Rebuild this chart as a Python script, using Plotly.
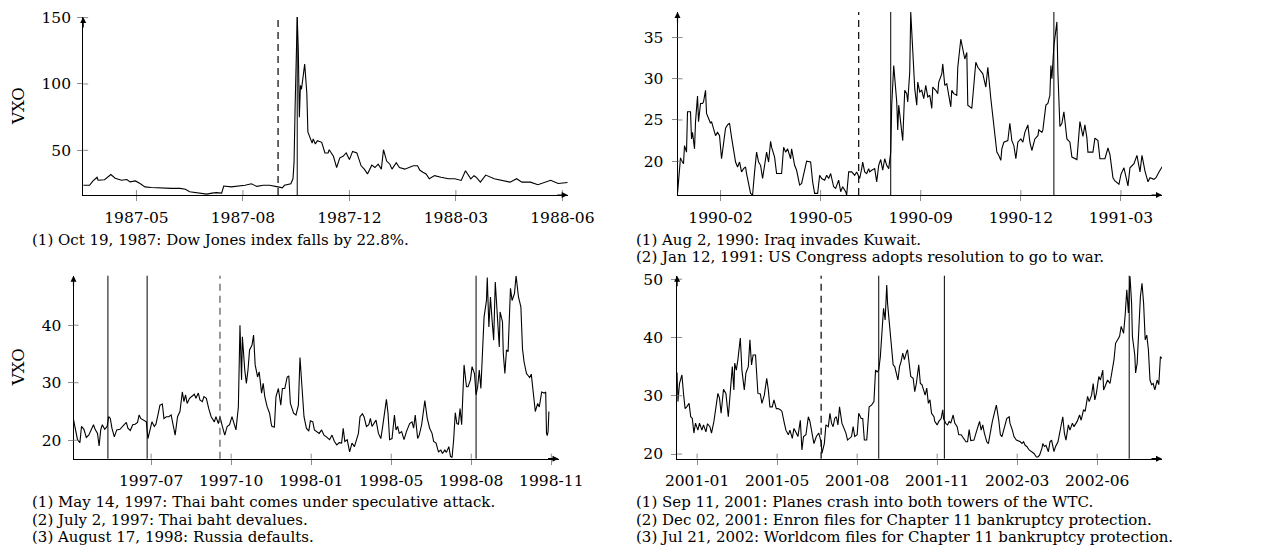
import pandas as pd
import plotly.graph_objects as go

FONT = "DejaVu Serif"
W, H = 1261, 547
OFF = 8  # the page body adds an 8px margin around the figure

# ---------------- Panel 1: 1987 crash (days counted from p1_start) ----------------
p1_start = "1987-04-01"
p1_day = [0, 6, 9, 13, 14, 20, 26, 30, 36, 41,
          44, 49, 53, 58, 64, 71, 77, 83, 91, 96,
          100, 108, 116, 121, 125, 130, 132, 139, 146, 152,
          158, 163, 169, 175, 183, 187, 189, 195, 197, 198,
          199, 201, 202, 203, 204, 205, 208, 210, 211, 213,
          215, 216, 218, 220, 224, 227, 230, 231, 235, 238,
          241, 244, 247, 250, 253, 257, 261, 264, 267, 271,
          274, 277, 280, 282, 285, 288, 290, 294, 297, 302,
          307, 310, 314, 316, 319, 322, 325, 330, 336, 343,
          349, 355, 359, 361, 364, 367, 369, 373, 378, 386,
          393, 401, 407, 412, 420, 427, 439, 446, 455]
p1_vxo = [23.6, 23.6, 26.8, 29.7, 27.4, 27.8, 31.7, 29.0, 27.4, 28.0,
          26.2, 26.9, 25.1, 22.4, 22.0, 21.7, 21.3, 21.3, 21.3, 20.6,
          18.8, 17.7, 17.0, 17.7, 18.1, 17.7, 23.1, 22.4, 22.8, 23.6,
          24.8, 22.8, 23.6, 23.6, 22.4, 21.7, 23.6, 24.8, 28.5, 40.7,
          82.0, 150.5, 126.0, 75.0, 99.0, 96.0, 115.0, 93.0, 63.9, 60.3,
          55.4, 58.6, 54.8, 57.2, 56.0, 48.0, 48.0, 50.4, 45.5, 37.0,
          44.3, 45.5, 48.0, 43.0, 49.2, 48.0, 38.3, 35.8, 32.2, 38.8,
          37.0, 39.5, 35.8, 50.4, 41.9, 39.5, 35.8, 40.7, 37.0, 35.8,
          37.0, 38.3, 38.3, 35.1, 33.4, 32.2, 28.5, 30.9, 29.7, 28.5,
          28.5, 27.3, 34.6, 32.2, 28.5, 30.9, 29.7, 26.0, 31.3, 28.6,
          27.4, 26.0, 28.6, 26.0, 26.0, 24.0, 27.4, 25.0, 25.7]
p1_tick_dates = ["1987-05-21", "1987-08-29", "1987-12-07", "1988-03-16", "1988-06-24"]
p1_tick_text = ["1987-05", "1987-08", "1987-12", "1988-03", "1988-06"]
p1_yticks = [50, 100, 150]
p1_yrange = [16.3, 150.5]
p1_xend = "1988-06-29"
p1_events = ["1987-10-19"]
p1_dashed = "1987-10-01"
p1_caption = ["(1) Oct 19, 1987: Dow Jones index falls by 22.8%."]

# ---------------- Panel 2: Gulf war ----------------
p2_start = "1990-01-01"
p2_day = [0, 2, 3, 4, 6, 7, 9, 10, 13, 14,
          15, 17, 18, 20, 21, 23, 25, 26, 28, 29,
          33, 34, 36, 38, 40, 42, 44, 45, 48, 50,
          52, 54, 56, 58, 60, 62, 64, 66, 68, 69,
          73, 75, 77, 79, 81, 83, 85, 88, 89, 91,
          93, 94, 97, 99, 104, 106, 108, 110, 113, 114,
          117, 119, 122, 124, 127, 129, 133, 135, 137, 140,
          142, 144, 147, 149, 151, 153, 156, 158, 161, 163,
          165, 168, 169, 171, 174, 177, 179, 182, 184, 185,
          187, 189, 191, 192, 194, 197, 199, 201, 203, 205,
          207, 209, 211, 213, 214, 216, 219, 220, 221, 223,
          225, 227, 229, 230, 232, 233, 235, 237, 239, 240,
          242, 244, 246, 248, 250, 252, 254, 255, 258, 260,
          261, 264, 265, 267, 269, 270, 273, 274, 276, 279,
          280, 283, 285, 287, 289, 290, 294, 296, 298, 300,
          303, 305, 308, 310, 313, 315, 317, 319, 321, 323,
          324, 326, 330, 332, 334, 336, 338, 340, 343, 345,
          347, 350, 352, 354, 357, 360, 361, 364, 365, 368,
          370, 372, 373, 374, 376, 378, 379, 380, 382, 384,
          386, 389, 392, 394, 397, 399, 402, 405, 407, 409,
          410, 415, 417, 420, 422, 427, 430, 432, 435, 437,
          441, 443, 446, 450, 452, 456, 459, 462, 464, 467,
          470, 472, 476, 478, 481, 485]
p2_vxo = [16.1, 18.7, 20.4, 20.1, 19.7, 21.9, 21.1, 26.0, 26.0, 22.7,
          23.5, 21.5, 24.8, 27.9, 24.8, 27.0, 27.0, 27.2, 28.6, 25.8,
          24.6, 24.8, 23.8, 23.1, 23.5, 23.1, 20.3, 21.3, 24.0, 24.4,
          24.6, 22.9, 21.1, 19.9, 19.3, 19.9, 18.7, 19.1, 19.3, 18.5,
          16.1, 15.9, 18.7, 21.1, 19.9, 19.5, 17.9, 20.7, 21.1, 19.9,
          22.4, 21.7, 20.5, 18.5, 18.5, 21.7, 21.1, 21.5, 20.3, 21.5,
          19.5, 18.9, 17.1, 17.3, 18.9, 20.0, 19.9, 17.5, 16.1, 16.1,
          18.3, 17.9, 17.7, 18.3, 17.9, 18.5, 16.9, 16.7, 17.7, 16.3,
          16.9, 16.3, 15.9, 18.7, 18.7, 18.3, 18.7, 17.9, 19.1, 19.9,
          18.7, 18.5, 19.1, 18.7, 18.9, 19.1, 17.5, 19.5, 20.2, 18.9,
          20.3, 19.5, 19.1, 21.1, 26.8, 31.6, 27.2, 23.8, 26.8, 24.8,
          22.5, 28.6, 28.2, 27.2, 30.8, 38.1, 32.8, 28.8, 26.8, 29.6,
          28.4, 28.6, 27.6, 29.2, 27.8, 28.0, 26.4, 29.0, 28.6, 28.2,
          29.6, 30.6, 31.8, 29.2, 29.4, 28.6, 26.6, 28.6, 28.2, 28.0,
          31.4, 34.8, 33.6, 32.4, 33.2, 26.8, 26.4, 28.8, 32.0, 31.4,
          31.0, 30.6, 29.0, 31.4, 27.6, 25.2, 23.1, 21.1, 20.7, 20.1,
          21.5, 22.3, 22.5, 24.6, 22.5, 21.9, 20.3, 22.3, 22.7, 22.3,
          23.5, 24.4, 22.3, 21.3, 22.7, 23.1, 23.8, 23.5, 23.8, 26.8,
          27.0, 28.0, 31.6, 30.0, 34.0, 35.6, 36.9, 30.8, 24.2, 24.6,
          26.0, 22.7, 22.3, 20.5, 20.3, 20.2, 24.8, 23.0, 24.4, 22.8,
          21.1, 21.1, 22.8, 22.5, 20.3, 20.3, 21.6, 20.8, 18.0, 17.6,
          17.2, 18.4, 19.2, 17.0, 19.2, 19.7, 20.7, 18.7, 20.7, 18.8,
          17.5, 18.0, 17.8, 18.0, 18.7, 19.5]
p2_tick_dates = ["1990-02-13", "1990-05-24", "1990-09-01", "1990-12-10", "1991-03-20"]
p2_tick_text = ["1990-02", "1990-05", "1990-09", "1990-12", "1991-03"]
p2_yticks = [20, 25, 30, 35]
p2_yrange = [15.9, 38.1]
p2_xend = "1991-04-30"
p2_events = ["1990-08-02", "1991-01-12"]
p2_dashed = "1990-07-01"
p2_caption = ["(1) Aug 2, 1990: Iraq invades Kuwait.",
              "(2) Jan 12, 1991: US Congress adopts resolution to go to war."]

# ---------------- Panel 3: Asian / Russian crisis ----------------
p3_start = "1997-04-01"
p3_day = [0, 2, 5, 8, 10, 13, 16, 19, 22, 25,
          27, 30, 32, 34, 36, 39, 42, 44, 46, 48,
          51, 54, 58, 61, 64, 66, 68, 71, 74, 77,
          80, 82, 84, 87, 91, 93, 95, 98, 101, 103,
          106, 108, 111, 113, 116, 119, 122, 124, 127, 130,
          133, 136, 138, 140, 142, 145, 148, 151, 153, 156,
          158, 161, 163, 166, 169, 172, 176, 178, 181, 183,
          186, 189, 192, 195, 198, 201, 203, 206, 208, 210,
          211, 214, 216, 218, 220, 223, 225, 227, 230, 232,
          235, 237, 239, 242, 245, 247, 248, 251, 253, 256,
          259, 261, 264, 267, 269, 271, 275, 278, 281, 283,
          286, 288, 291, 294, 296, 299, 301, 304, 307, 310,
          313, 316, 320, 323, 326, 329, 332, 335, 337, 339,
          342, 345, 348, 351, 354, 356, 358, 361, 363, 366,
          369, 371, 373, 376, 378, 381, 384, 386, 388, 391,
          393, 395, 398, 401, 403, 405, 407, 410, 413, 416,
          420, 423, 425, 427, 430, 432, 435, 437, 439, 442,
          445, 448, 450, 453, 456, 459, 461, 464, 466, 469,
          471, 473, 475, 477, 479, 481, 483, 485, 486, 488,
          491, 493, 496, 498, 501, 503, 505, 507, 509, 511,
          513, 516, 517, 519, 521, 523, 525, 527, 529, 532,
          533, 536, 537, 539, 541, 543, 546, 548, 551, 553,
          556, 559, 561, 563, 566, 570, 572, 575, 577, 580,
          582, 585, 588, 590, 591, 592, 593, 594]
p3_vxo = [23.6, 22.4, 20.1, 19.6, 22.4, 21.9, 20.5, 20.9, 21.8, 22.7,
          21.9, 21.2, 19.0, 21.8, 22.7, 21.9, 22.4, 24.1, 23.8, 22.1,
          20.6, 21.8, 21.9, 22.4, 22.7, 23.1, 22.1, 21.7, 22.7, 22.8,
          23.1, 24.4, 23.8, 23.5, 23.2, 20.3, 21.5, 23.2, 22.4, 22.8,
          24.7, 26.1, 26.3, 23.8, 24.1, 24.1, 24.4, 23.2, 20.9, 24.1,
          25.0, 28.4, 26.7, 27.9, 26.4, 27.3, 27.6, 28.0, 27.3, 28.2,
          27.0, 26.7, 27.6, 27.3, 25.5, 24.1, 23.2, 24.1, 22.9, 24.1,
          22.4, 20.9, 22.4, 22.7, 24.1, 22.9, 21.8, 25.8, 40.0, 30.5,
          38.0, 32.2, 29.9, 32.2, 35.7, 36.5, 38.3, 33.1, 31.0, 31.9,
          28.2, 29.9, 27.6, 25.8, 24.7, 22.9, 22.4, 22.3, 27.6, 29.0,
          26.1, 29.0, 29.0, 31.0, 31.2, 26.4, 24.7, 24.4, 26.1, 34.4,
          27.6, 24.1, 22.1, 21.6, 23.4, 23.2, 21.8, 21.5, 21.2, 21.8,
          20.9, 20.6, 20.1, 20.9, 19.8, 19.2, 19.6, 19.5, 22.1, 19.8,
          20.1, 18.0, 19.5, 18.9, 20.3, 21.2, 24.1, 24.6, 24.1, 22.4,
          22.7, 23.8, 22.4, 23.2, 23.5, 21.2, 20.3, 22.1, 24.1, 27.1,
          24.7, 20.1, 20.3, 24.4, 21.8, 22.4, 21.2, 21.5, 20.1, 21.5,
          22.9, 23.2, 22.1, 24.4, 20.3, 20.9, 22.7, 24.7, 26.9, 23.8,
          22.1, 21.2, 19.8, 19.5, 18.0, 18.3, 17.7, 18.3, 17.9, 18.9,
          17.2, 17.0, 20.1, 24.8, 22.9, 22.8, 25.5, 22.7, 26.1, 33.1,
          29.3, 29.3, 30.5, 32.8, 31.6, 27.9, 29.3, 32.2, 29.0, 35.0,
          41.4, 44.3, 48.3, 39.7, 44.9, 40.9, 37.4, 47.5, 42.6, 36.2,
          42.3, 40.6, 35.1, 31.6, 35.7, 35.4, 46.4, 44.3, 45.5, 48.6,
          44.9, 43.2, 35.9, 33.6, 31.6, 30.9, 31.5, 27.0, 25.0, 26.4,
          25.8, 28.4, 28.2, 28.4, 21.2, 20.8, 21.6, 25.0]
p3_tick_dates = ["1997-07-07", "1997-10-15", "1998-01-23", "1998-05-03", "1998-08-11", "1998-11-19"]
p3_tick_text = ["1997-07", "1997-10", "1998-01", "1998-05", "1998-08", "1998-11"]
p3_yticks = [20, 30, 40]
p3_yrange = [16.8, 48.6]
p3_xend = "1998-11-28"
p3_events = ["1997-05-14", "1997-07-02", "1998-08-17"]
p3_dashed = "1997-10-01"
p3_caption = ["(1) May 14, 1997: Thai baht comes under speculative attack.",
              "(2) July 2, 1997: Thai baht devalues.",
              "(3) August 17, 1998: Russia defaults."]

# ---------------- Panel 4: 2001-2002 ----------------
p4_start = "2001-01-02"
p4_day = [0, 1, 3, 6, 8, 10, 12, 15, 17, 19,
          21, 23, 26, 28, 31, 33, 36, 38, 41, 43,
          46, 48, 51, 53, 55, 58, 61, 64, 66, 69,
          71, 72, 74, 76, 79, 81, 84, 86, 89, 91,
          93, 95, 98, 101, 104, 106, 109, 112, 114, 116,
          119, 121, 124, 126, 129, 131, 134, 136, 139, 141,
          144, 146, 149, 151, 154, 156, 158, 161, 164, 166,
          169, 171, 174, 177, 180, 181, 184, 186, 189, 191,
          193, 195, 197, 199, 201, 203, 206, 208, 211, 213,
          216, 218, 220, 222, 225, 227, 230, 232, 234, 237,
          240, 243, 246, 248, 250, 252, 254, 256, 257, 258,
          260, 262, 263, 265, 267, 268, 270, 272, 274, 276,
          278, 280, 282, 284, 287, 288, 290, 292, 295, 297,
          299, 302, 304, 306, 308, 310, 312, 314, 316, 318,
          321, 322, 325, 327, 330, 332, 333, 336, 338, 340,
          342, 345, 347, 350, 352, 355, 358, 361, 363, 365,
          367, 371, 374, 376, 378, 380, 382, 384, 387, 389,
          392, 394, 397, 399, 402, 404, 406, 408, 410, 412,
          415, 416, 419, 421, 424, 426, 429, 431, 433, 435,
          437, 440, 443, 446, 449, 451, 453, 456, 457, 459,
          461, 464, 466, 468, 471, 473, 476, 478, 480, 482,
          484, 486, 489, 491, 494, 496, 500, 503, 505, 508,
          510, 513, 515, 518, 520, 522, 524, 527, 529, 532,
          533, 536, 538, 541, 543, 546, 548, 551, 553, 555,
          558, 560, 562, 564, 566, 568, 569, 572, 573, 575,
          577, 579, 581, 583, 585, 587, 589, 591, 593, 595,
          597, 600, 602, 604, 606]
p4_vxo = [34.0, 29.0, 32.1, 33.6, 30.4, 27.8, 28.1, 28.7, 26.4, 26.1,
          23.6, 25.3, 24.1, 25.3, 24.1, 25.0, 23.8, 25.2, 24.7, 23.6,
          25.6, 27.3, 30.4, 29.6, 27.0, 31.1, 30.4, 26.4, 30.4, 35.0,
          31.0, 35.6, 34.4, 36.2, 39.9, 34.4, 31.0, 33.9, 35.0, 39.6,
          35.3, 37.0, 37.0, 30.4, 30.3, 28.7, 30.1, 33.0, 31.0, 28.1,
          28.1, 29.3, 27.8, 27.8, 27.6, 27.3, 25.3, 24.1, 23.3, 24.1,
          22.7, 24.4, 23.6, 23.0, 25.8, 20.7, 23.0, 23.3, 26.4, 25.6,
          23.3, 21.8, 23.0, 23.6, 22.1, 20.1, 21.8, 25.0, 24.7, 27.0,
          25.3, 24.7, 26.1, 26.4, 25.0, 28.1, 25.3, 24.7, 23.6, 22.4,
          22.7, 23.0, 24.7, 23.0, 23.3, 27.0, 26.1, 26.1, 22.4, 22.4,
          28.1, 28.4, 29.0, 34.4, 34.1, 34.4, 36.7, 40.7, 43.0, 45.0,
          43.0, 49.0, 45.9, 42.5, 39.3, 37.9, 35.3, 35.0, 33.9, 32.7,
          35.0, 35.9, 37.3, 36.2, 37.6, 37.9, 35.6, 33.3, 33.0, 30.7,
          32.1, 35.3, 32.1, 31.9, 31.0, 30.1, 31.3, 28.7, 29.3, 27.0,
          26.4, 25.6, 25.0, 25.6, 26.1, 27.6, 26.1, 25.2, 25.0, 25.6,
          25.3, 26.7, 25.3, 24.7, 23.3, 23.3, 22.7, 22.1, 22.1, 24.2,
          22.3, 22.4, 23.8, 24.7, 25.6, 24.1, 25.0, 23.6, 22.1, 21.8,
          24.4, 25.6, 27.3, 28.4, 25.8, 23.3, 23.0, 24.1, 25.3, 26.1,
          26.4, 25.3, 24.1, 23.0, 22.4, 22.3, 22.1, 21.8, 22.1, 21.5,
          21.3, 20.7, 20.4, 20.1, 19.5, 19.5, 19.8, 21.0, 21.8, 21.3,
          21.5, 20.4, 22.1, 22.4, 20.4, 21.3, 22.1, 23.6, 24.7, 26.4,
          23.6, 22.4, 25.0, 24.1, 25.3, 24.7, 25.6, 26.7, 25.8, 27.6,
          27.3, 29.9, 29.0, 30.1, 32.1, 29.3, 30.4, 33.3, 32.7, 34.4,
          31.0, 32.1, 32.7, 32.1, 33.9, 36.2, 39.0, 39.6, 40.2, 41.9,
          40.7, 43.9, 48.2, 44.2, 50.5, 45.9, 40.2, 37.0, 33.9, 35.6,
          41.9, 47.0, 49.3, 45.9, 39.6, 40.4, 37.9, 32.7, 31.9, 32.1,
          31.0, 32.7, 31.9, 36.7, 36.4]
p4_tick_dates = ["2001-01-27", "2001-05-07", "2001-08-15", "2001-11-23", "2002-03-03", "2002-06-11"]
p4_tick_text = ["2001-01", "2001-05", "2001-08", "2001-11", "2002-03", "2002-06"]
p4_yticks = [20, 30, 40, 50]
p4_yrange = [19.2, 50.6]
p4_xend = "2002-08-31"
p4_events = ["2001-09-11", "2001-12-02", "2002-07-21"]
p4_dashed = "2001-07-01"
p4_caption = ["(1) Sep 11, 2001: Planes crash into both towers of the WTC.",
              "(2) Dec 02, 2001: Enron files for Chapter 11 bankruptcy protection.",
              "(3) Jul 21, 2002: Worldcom files for Chapter 11 bankruptcy protection."]

# ---------------- layout boxes (page pixels: left, right, top, bottom) ----------------
boxes = [(83.2, 567.7, 17.0, 195.0),
         (677.5, 1162.0, 12.0, 195.0),
         (73.5, 558.5, 275.7, 458.7),
         (677.1, 1162.0, 275.7, 458.7)]
caption_x = [31, 635, 31, 635]
caption_y = [[239.5], [239.5, 257.0], [502.0, 519.5, 537.0], [502.0, 519.5, 537.0]]
ylabel_on = [True, False, True, False]
dash_color = ["black", "black", "#555555", "black"]

panels = [
    (p1_start, p1_day, p1_vxo, p1_tick_dates, p1_tick_text, p1_yticks, p1_yrange, p1_xend, p1_events, p1_dashed, p1_caption),
    (p2_start, p2_day, p2_vxo, p2_tick_dates, p2_tick_text, p2_yticks, p2_yrange, p2_xend, p2_events, p2_dashed, p2_caption),
    (p3_start, p3_day, p3_vxo, p3_tick_dates, p3_tick_text, p3_yticks, p3_yrange, p3_xend, p3_events, p3_dashed, p3_caption),
    (p4_start, p4_day, p4_vxo, p4_tick_dates, p4_tick_text, p4_yticks, p4_yrange, p4_xend, p4_events, p4_dashed, p4_caption),
]

fig = go.Figure()
shapes = []
annotations = []
TICK_COL = "#8c8c8c"
TICK_FONT = dict(family=FONT, size=15.5, color="black")
CAP_FONT = dict(family=FONT, size=15, color="black")
LABEL_FONT = dict(family=FONT, size=16.5, color="black")


def fx(px):
    return (px - OFF) / W


def fy(py):
    return 1 - (py - OFF) / H


for i, (start, days, vxo, tdates, ttext, yticks, yrange, xend, events, dashed, caption) in enumerate(panels):
    n = "" if i == 0 else str(i + 1)
    xa, ya = "x" + n, "y" + n
    l, r, t, b = boxes[i]
    pw, ph = r - l, b - t
    dates = pd.Timestamp(start) + pd.to_timedelta(days, unit="D")
    fig.add_trace(go.Scatter(x=dates, y=vxo, mode="lines", xaxis=xa, yaxis=ya,
                             line=dict(color="black", width=1.1), showlegend=False,
                             hoverinfo="skip"))
    fig.layout["xaxis" + n] = dict(
        domain=[fx(l), fx(r)], anchor=ya, type="date",
        range=[pd.Timestamp(start), pd.Timestamp(xend)],
        tickmode="array", tickvals=tdates, ticktext=ttext,
        ticks="outside", ticklen=5, tickwidth=1, tickcolor=TICK_COL, ticklabelstandoff=3,
        ticklabeloverflow="allow",
        showline=True, linecolor="black", linewidth=1, mirror=False,
        showgrid=False, zeroline=False, tickfont=TICK_FONT, automargin=False)
    fig.layout["yaxis" + n] = dict(
        domain=[fy(b), fy(t)], anchor=xa, range=yrange,
        tickmode="array", tickvals=yticks,
        ticks="outside", ticklen=5, tickwidth=1, tickcolor=TICK_COL,
        ticklabelstandoff=3 if i % 2 == 0 else 5,
        ticklabeloverflow="allow",
        showline=True, linecolor="black", linewidth=1,
        showgrid=False, zeroline=False, tickfont=TICK_FONT, automargin=False)
    # inner halves of the tick marks
    for d in tdates:
        shapes.append(dict(type="line", xref=xa, yref=ya + " domain", x0=d, x1=d,
                           y0=0, y1=5 / ph, line=dict(color=TICK_COL, width=1)))
    for v in yticks:
        shapes.append(dict(type="line", xref=xa + " domain", yref=ya, x0=0, x1=5 / pw,
                           y0=v, y1=v, line=dict(color=TICK_COL, width=1)))
    # event lines
    for e in events:
        shapes.append(dict(type="line", xref=xa, yref=ya + " domain", x0=e, x1=e,
                           y0=0, y1=1, line=dict(color="black", width=1)))
    shapes.append(dict(type="line", xref=xa, yref=ya + " domain", x0=dashed, x1=dashed,
                       y0=0, y1=1, line=dict(color=dash_color[i], width=1.2, dash="7px,5px")))
    # axis arrows
    annotations.append(dict(xref=xa + " domain", yref=ya + " domain", x=1, y=0, ax=-12, ay=0,
                            axref="pixel", ayref="pixel", text="", showarrow=True,
                            arrowhead=2, arrowsize=1, arrowwidth=1.2, arrowcolor="black", standoff=0))
    annotations.append(dict(xref=xa + " domain", yref=ya + " domain", x=0, y=1, ax=0, ay=12,
                            axref="pixel", ayref="pixel", text="", showarrow=True,
                            arrowhead=2, arrowsize=1, arrowwidth=1.2, arrowcolor="black", standoff=0))
    if ylabel_on[i]:
        annotations.append(dict(xref="paper", yref="paper", x=fx(18), y=fy((t + b) / 2),
                                text="VXO", textangle=-90, showarrow=False,
                                xanchor="center", yanchor="middle", font=LABEL_FONT))
    for line, yy in zip(caption, caption_y[i]):
        annotations.append(dict(xref="paper", yref="paper", x=fx(caption_x[i]), y=fy(yy),
                                text=line, showarrow=False, xanchor="left", yanchor="middle",
                                font=CAP_FONT, borderpad=0))

fig.update_layout(width=W, height=H, margin=dict(l=0, r=0, t=0, b=0),
                  paper_bgcolor="white", plot_bgcolor="white",
                  shapes=shapes, annotations=annotations, showlegend=False,
                  font=dict(family=FONT, color="black"))
fig.write_html("out.html")
